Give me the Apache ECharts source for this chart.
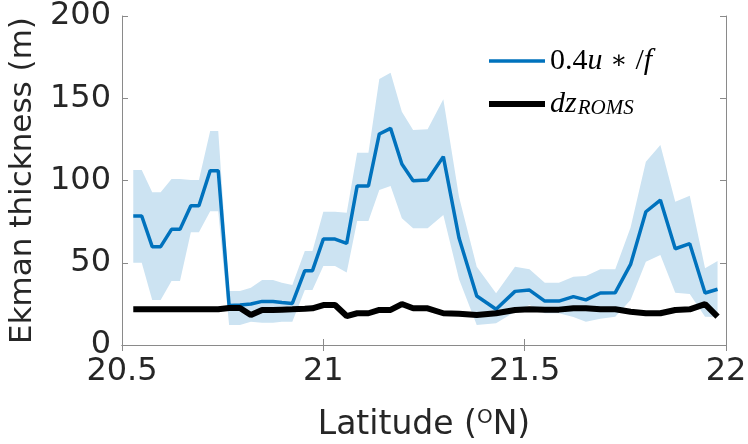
<!DOCTYPE html>
<html>
<head>
<meta charset="utf-8">
<script src="https://cdn.jsdelivr.net/npm/echarts@6/dist/echarts.min.js"></script>
<style>
  html, body { margin: 0; padding: 0; background: #fff; }
  #main { width: 748px; height: 444px; }
</style>
</head>
<body>
<div id="main"></div>
<script>
// latitude of each point (deg N)
var lat = [20.528, 20.549, 20.575, 20.596, 20.623, 20.644, 20.671, 20.691, 20.719, 20.739,
    20.766, 20.793, 20.820, 20.848, 20.875, 20.897, 20.923, 20.954, 20.973, 21.000,
    21.029, 21.058, 21.084, 21.112, 21.139, 21.167, 21.195, 21.223, 21.259, 21.298,
    21.337, 21.381, 21.429, 21.476, 21.512, 21.550, 21.585, 21.621, 21.652, 21.688,
    21.725, 21.763, 21.801, 21.837, 21.874, 21.910, 21.948, 21.979];
// 0.4u*/f mean
var ekman = [78.4, 78.4, 59.8, 59.8, 70.3, 70.3, 84.7, 84.7, 106, 106,
    24, 24.3, 24.9, 26.5, 26.5, 25.8, 25.3, 45.2, 45.2, 64.4,
    64.4, 61.8, 96.7, 96.7, 128.3, 131.7, 110, 99.9, 100.3, 114.5,
    65, 29.8, 21.7, 32.6, 33.4, 26.7, 26.7, 29.4, 27.4, 31.6,
    31.8, 49, 81, 88.1, 58.5, 61.6, 31.6, 33.9];
// shaded band
var upper = [106.4, 106.4, 92.8, 92.8, 100.9, 100.9, 100.3, 100.3, 130.1, 130.1,
    32.8, 32.8, 34.8, 39.5, 39.5, 37.9, 36.5, 57.1, 57.1, 81,
    81, 80.4, 116.9, 116.9, 161.7, 165.5, 141.8, 130.7, 131.1, 149.4,
    90, 47.6, 31.4, 47.6, 46, 37.9, 37.9, 41.5, 42, 46,
    46, 71.5, 111.4, 121.6, 87.1, 90.7, 46.6, 51];
var lower = [50, 50, 27.4, 27.4, 38.9, 38.9, 68.5, 68.5, 81.3, 81.3,
    12.2, 12.2, 14.2, 13.5, 13.5, 14.2, 14.2, 33.4, 33.4, 48,
    48, 44, 75.4, 75.4, 94.2, 96.7, 77, 70.9, 70.9, 79,
    40, 12.2, 13.2, 20.2, 24.3, 19.3, 19.3, 17, 14.2, 16,
    17.2, 27.4, 50.6, 54.7, 31.8, 31, 17.2, 17];
// dz_ROMS
var dzRoms = [21.7, 21.7, 21.7, 21.7, 21.7, 21.7, 21.7, 21.7, 21.7, 21.7,
    22.5, 22.5, 18.2, 21.3, 21.3, 21.5, 21.7, 22, 22.3, 24.3,
    24.3, 17.6, 19.3, 19.3, 21.3, 21.3, 24.9, 22.3, 22.3, 19.3,
    19, 18.2, 19.3, 21.3, 21.7, 21.5, 21.5, 22.3, 22.3, 21.7,
    21.7, 20.2, 19.3, 19.3, 21.3, 21.7, 24.9, 17.2];
var xTicks = [20.5, 22, 0.5];
var yTicks = [0, 200, 50];

function pairs(ys) {
    return lat.map(function (x, i) { return [x, ys[i]]; });
}

var axisColor = '#8a8a8a';
var textColor = '#262626';
var sans = 'DejaVu Sans';
var serif = 'Liberation Serif';

// band polygon: upper edge left->right, lower edge right->left
function renderBand(params, api) {
    if (params.dataIndex !== 0) return null;
    var pts = [];
    for (var i = 0; i < lat.length; i++) pts.push(api.coord([lat[i], upper[i]]));
    for (var j = lat.length - 1; j >= 0; j--) pts.push(api.coord([lat[j], lower[j]]));
    return {
        type: 'polygon',
        shape: { points: pts },
        style: { fill: '#cce3f2', stroke: null }
    };
}

var option = {
    animation: false,
    grid: { left: 122, right: 22, top: 16, bottom: 99, outerBoundsMode: 'none' },
    legend: {
        orient: 'vertical',
        left: 489,
        top: 46,
        padding: 0,
        itemWidth: 56,
        itemHeight: 14,
        itemGap: 13,
        symbolKeepAspect: true,
        data: [
            { name: 'ustar', icon: 'path://M0 0H56V3.5H0Z' },
            { name: 'dz', icon: 'path://M0 0H56V6H0Z' }
        ],
        formatter: function (name) {
            if (name === 'ustar') return '{n|0.4}{i|u}{a| \u2217 }{n|/}{i|f}';
            return '{i|dz}{s|ROMS}';
        },
        textStyle: {
            color: '#000',
            rich: {
                n: { fontFamily: serif, fontSize: 30, lineHeight: 28, color: '#000' },
                i: { fontFamily: serif, fontStyle: 'italic', fontSize: 30, lineHeight: 28, color: '#000' },
                a: { fontFamily: 'DejaVu Serif', fontSize: 25, lineHeight: 28, color: '#000' },
                s: { fontFamily: serif, fontStyle: 'italic', fontSize: 21, lineHeight: 21, padding: [9, 0, 0, 1], color: '#000' }
            }
        }
    },
    xAxis: [{
        type: 'value',
        min: xTicks[0], max: xTicks[1], interval: xTicks[2],
        name: 'Latitude ({sup|O}N)',
        nameLocation: 'middle',
        nameGap: 63,
        nameTextStyle: {
            fontFamily: sans, fontSize: 33, color: textColor,
            rich: { sup: { fontFamily: sans, fontSize: 20, color: textColor, padding: [0, 0, 15, 0] } }
        },
        axisLine: { show: true, lineStyle: { color: axisColor, width: 1 } },
        axisTick: { inside: true, length: 6, lineStyle: { color: axisColor } },
        axisLabel: { fontFamily: sans, fontSize: 32, color: textColor, margin: 11 },
        splitLine: { show: false }
    }, {
        type: 'value', position: 'top',
        min: xTicks[0], max: xTicks[1], interval: xTicks[2],
        axisLine: { show: true, lineStyle: { color: axisColor, width: 1 } },
        axisTick: { inside: true, length: 6, lineStyle: { color: axisColor } },
        axisLabel: { show: false },
        splitLine: { show: false }
    }],
    yAxis: [{
        type: 'value',
        min: yTicks[0], max: yTicks[1], interval: yTicks[2],
        name: 'Ekman thickness (m)',
        nameLocation: 'middle',
        nameGap: 84,
        nameTextStyle: { fontFamily: sans, fontSize: 31, color: textColor },
        axisLine: { show: true, lineStyle: { color: axisColor, width: 1 } },
        axisTick: { show: true, inside: true, length: 6, lineStyle: { color: axisColor } },
        axisLabel: { fontFamily: sans, fontSize: 32, color: textColor, margin: 11 },
        splitLine: { show: false }
    }, {
        type: 'value', position: 'right',
        min: yTicks[0], max: yTicks[1], interval: yTicks[2],
        axisLine: { show: true, lineStyle: { color: axisColor, width: 1 } },
        axisTick: { show: true, inside: true, length: 6, lineStyle: { color: axisColor } },
        axisLabel: { show: false },
        splitLine: { show: false }
    }],
    series: [{
        name: 'band',
        type: 'custom',
        silent: true,
        z: 1,
        data: pairs(upper),
        renderItem: renderBand
    }, {
        name: 'ustar',
        type: 'line',
        z: 3,
        data: pairs(ekman),
        symbol: 'none',
        color: '#0072bd',
        lineStyle: { color: '#0072bd', width: 3.5 }
    }, {
        name: 'dz',
        type: 'line',
        z: 4,
        data: pairs(dzRoms),
        symbol: 'none',
        color: '#000',
        lineStyle: { color: '#000', width: 6 }
    }]
};

var myChart = echarts.init(document.getElementById('main'));
myChart.setOption(option);
</script>
</body>
</html>
